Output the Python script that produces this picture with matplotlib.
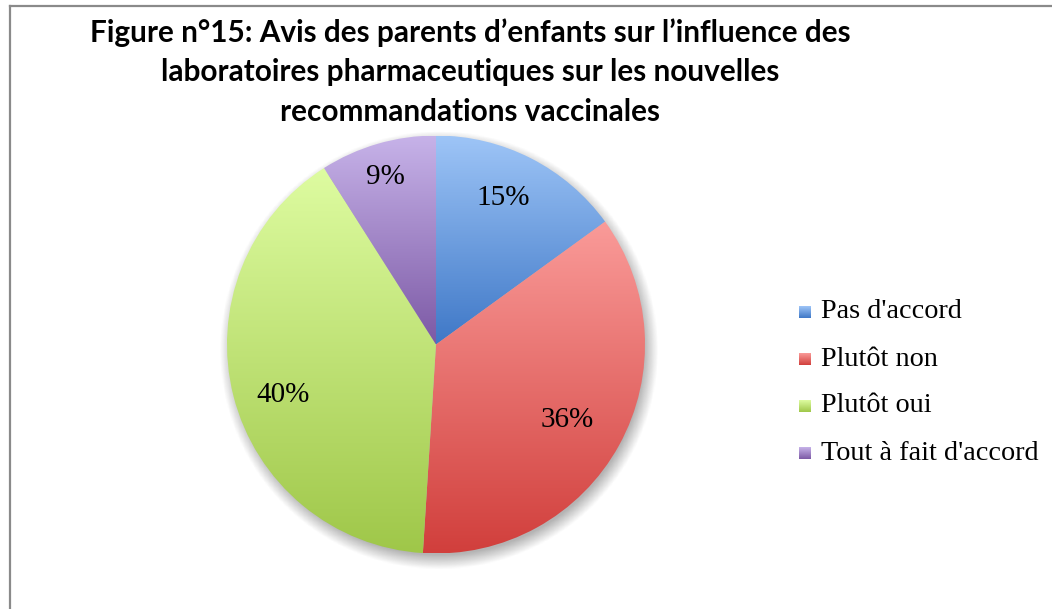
import numpy as np
import matplotlib
matplotlib.use("Agg")
import matplotlib.pyplot as plt
from matplotlib import font_manager
from matplotlib.colors import LinearSegmentedColormap
from matplotlib.patches import Wedge
from matplotlib.lines import Line2D

labels = ["Pas d'accord", "Plutôt non", "Plutôt oui", "Tout à fait d'accord"]
values = [15, 36, 40, 9]
top_colors = ["#9ec5f7", "#fa9b99", "#defca1", "#c7b3e9"]
bottom_colors = ["#3f78c7", "#d13f3c", "#9fc749", "#7c59a5"]
title = ("Figure n°15: Avis des parents d’enfants sur l’influence des\n"
         "laboratoires pharmaceutiques sur les nouvelles\n"
         "recommandations vaccinales")

names = {f.name for f in font_manager.fontManager.ttflist}
title_font = "Liberation Sans Narrow" if "Liberation Sans Narrow" in names else "Lato"
serif = "Liberation Serif"

W, H = 1052, 609
fig = plt.figure(figsize=(W / 100, H / 100), dpi=100)
fig.patch.set_facecolor("white")

# frame (top and left lines only visible)
fig.add_artist(Line2D([10 / W, 10 / W], [0, 1 - 6 / H], transform=fig.transFigure,
                      color="#8a8a8a", lw=1.6))
fig.add_artist(Line2D([10 / W, 1], [1 - 6 / H, 1 - 6 / H], transform=fig.transFigure,
                      color="#8a8a8a", lw=1.6))

fig.text(470 / W, 1 - 72 / H, title, ha="center", va="center", fontsize=21.4,
         fontweight="bold", family=title_font, linespacing=1.5)

# pie axes: centre (436, 344.5), radius ~209 px
cx, cy, r = 436, 344.5, 209
ax = fig.add_axes([(cx - r) / W, (H - cy - r) / H, 2 * r / W, 2 * r / H])
ax.set_xlim(-1, 1)
ax.set_ylim(-1, 1)
ax.set_aspect("equal")
ax.axis("off")

# soft shadow
yy, xx = np.mgrid[-1.2:1.2:400j, -1.2:1.2:400j]
d = np.hypot(xx - 0.015, yy + 0.03)
alpha = np.clip((1.05 - d) / 0.07, 0, 1) * 0.45
shadow = np.zeros((400, 400, 4))
shadow[..., :3] = 0.35
shadow[..., 3] = alpha
ax.imshow(shadow, extent=[-1.2, 1.2, -1.2, 1.2], origin="lower", zorder=0, clip_on=False)

total = sum(values)
start = 90.0
grad = np.linspace(0, 1, 256).reshape(-1, 1)
label_pos = {0: (0.32, 0.70), 1: (0.63, -0.36), 2: (-0.73, -0.24), 3: (-0.24, 0.80)}
for i, v in enumerate(values):
    sweep = 360.0 * v / total
    t1, t2 = start - sweep, start
    w = Wedge((0, 0), 1.0, t1, t2, facecolor="none", edgecolor="none")
    ax.add_patch(w)
    # bounding box of wedge
    angs = np.radians(np.linspace(t1, t2, 200))
    ys = np.concatenate([[0], np.sin(angs)])
    xs = np.concatenate([[0], np.cos(angs)])
    cmap = LinearSegmentedColormap.from_list(f"g{i}", [bottom_colors[i], top_colors[i]])
    im = ax.imshow(grad, cmap=cmap, origin="lower", aspect="auto",
                   extent=[xs.min(), xs.max(), ys.min(), ys.max()], zorder=1)
    im.set_clip_path(w)
    start = t1
    lx, ly = label_pos[i]
    ax.text(lx, ly, f"{v}%", ha="center", va="center", fontsize=21, family=serif,
            zorder=3)
ax.set_xlim(-1, 1)
ax.set_ylim(-1, 1)

# legend
for i, lab in enumerate(labels):
    y = 1 - (312 + 47 * i) / H
    sq = fig.add_axes([799 / W, y - 6 / H, 12 / W, 12 / H])
    sq.imshow(grad, cmap=LinearSegmentedColormap.from_list(f"l{i}", [bottom_colors[i], top_colors[i]]),
              origin="lower", aspect="auto", extent=[0, 1, 0, 1])
    sq.axis("off")
    fig.text(821 / W, y, lab, ha="left", va="center", fontsize=20.3, family=serif)

fig.savefig("out.png", dpi=100, facecolor="white")
